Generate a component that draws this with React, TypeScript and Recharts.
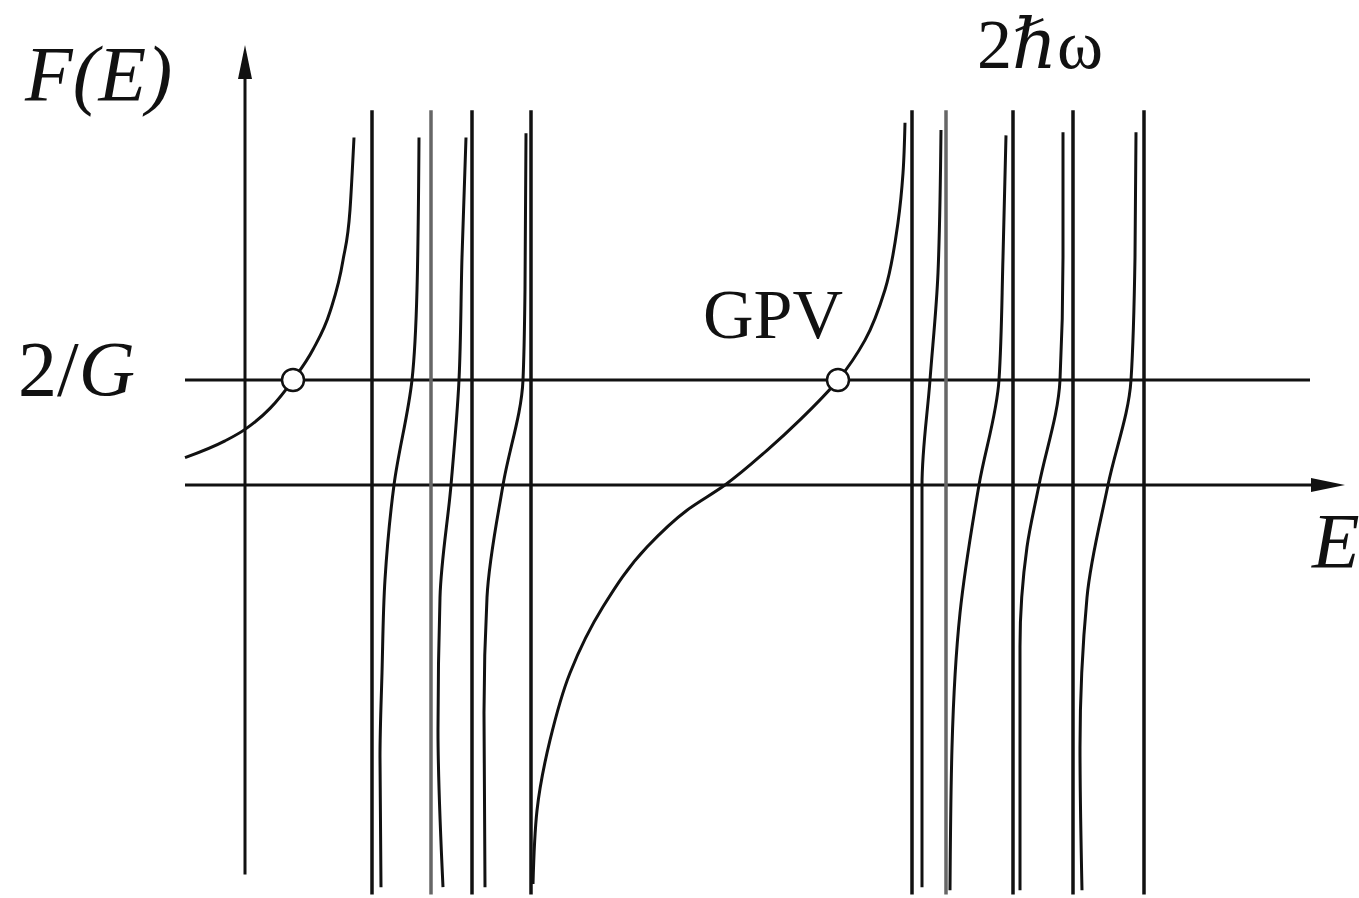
import { LineChart, Line, XAxis, YAxis, ReferenceLine, ReferenceDot } from "recharts";

type Pt = { e: number; f: number };

// Poles of F(E): single-particle levels
const poles = [1.27, 1.86, 2.27, 2.86, 6.67, 7.01, 7.68, 8.28, 8.99];
const grayPoles = [1.86, 7.01];
const poleTop = 3.57;
const poleBottom = -3.9;

// 2/G level and the two solutions marked on it
const coupling = 1;
const roots = [0.48, 5.93];

// branches of F(E) between consecutive poles
const branch0: Pt[] = [
  { e: -0.6, f: 0.26 },
  { e: -0.2, f: 0.42 },
  { e: 0.0, f: 0.53 },
  { e: 0.25, f: 0.73 },
  { e: 0.48, f: 1.0 },
  { e: 0.68, f: 1.29 },
  { e: 0.85, f: 1.65 },
  { e: 0.98, f: 2.14 },
  { e: 1.05, f: 2.62 },
  { e: 1.09, f: 3.31 },
];
const branch1: Pt[] = [
  { e: 1.36, f: -3.83 },
  { e: 1.35, f: -2.59 },
  { e: 1.37, f: -1.79 },
  { e: 1.4, f: -0.9 },
  { e: 1.49, f: 0 },
  { e: 1.67, f: 1.0 },
  { e: 1.72, f: 1.86 },
  { e: 1.74, f: 3.31 },
];
const branch2: Pt[] = [
  { e: 1.98, f: -3.83 },
  { e: 1.93, f: -2.33 },
  { e: 1.95, f: -1.07 },
  { e: 2.06, f: 0 },
  { e: 2.14, f: 1.0 },
  { e: 2.17, f: 2.17 },
  { e: 2.21, f: 3.31 },
];
const branch3: Pt[] = [
  { e: 2.4, f: -3.83 },
  { e: 2.39, f: -2.17 },
  { e: 2.42, f: -1.07 },
  { e: 2.58, f: 0 },
  { e: 2.78, f: 1.0 },
  { e: 2.8, f: 1.86 },
  { e: 2.81, f: 3.35 },
];
const branch4: Pt[] = [
  { e: 2.88, f: -3.8 },
  { e: 2.92, f: -3.1 },
  { e: 3.05, f: -2.43 },
  { e: 3.25, f: -1.79 },
  { e: 3.58, f: -1.16 },
  { e: 4.02, f: -0.59 },
  { e: 4.42, f: -0.24 },
  { e: 4.8, f: 0 },
  { e: 5.22, f: 0.33 },
  { e: 5.55, f: 0.62 },
  { e: 5.93, f: 1.0 },
  { e: 6.2, f: 1.38 },
  { e: 6.4, f: 1.86 },
  { e: 6.53, f: 2.5 },
  { e: 6.58, f: 2.97 },
  { e: 6.6, f: 3.45 },
];
const branch5: Pt[] = [
  { e: 6.77, f: -3.83 },
  { e: 6.77, f: -2.05 },
  { e: 6.77, f: 0 },
  { e: 6.85, f: 1.0 },
  { e: 6.93, f: 2.02 },
  { e: 6.96, f: 3.38 },
];
const branch6: Pt[] = [
  { e: 7.05, f: -3.86 },
  { e: 7.07, f: -2.5 },
  { e: 7.15, f: -1.22 },
  { e: 7.34, f: 0 },
  { e: 7.54, f: 1.0 },
  { e: 7.58, f: 2.17 },
  { e: 7.61, f: 3.33 },
];
const branch7: Pt[] = [
  { e: 7.75, f: -3.86 },
  { e: 7.75, f: -1.54 },
  { e: 7.82, f: -0.59 },
  { e: 7.94, f: 0 },
  { e: 8.15, f: 1.0 },
  { e: 8.18, f: 2.17 },
  { e: 8.18, f: 3.36 },
];
const branch8: Pt[] = [
  { e: 8.37, f: -3.86 },
  { e: 8.35, f: -2.5 },
  { e: 8.42, f: -1.07 },
  { e: 8.63, f: 0 },
  { e: 8.86, f: 1.0 },
  { e: 8.9, f: 2.17 },
  { e: 8.91, f: 3.36 },
];
// the left branch is interpolated along E, the rest along F
const flatBranches = [branch0];
const steepBranches = [branch1, branch2, branch3, branch4, branch5, branch6, branch7, branch8];

const serif = '"Liberation Serif", "Times New Roman", "DejaVu Serif", serif';
const ink = "#111";

// line with a filled arrowhead at (x2, y2)
const arrowLine = (props: any) => {
  const { x1, y1, x2, y2 } = props;
  const dx = x2 - x1;
  const dy = y2 - y1;
  const len = Math.hypot(dx, dy) || 1;
  const ux = dx / len;
  const uy = dy / len;
  const head = 34;
  const half = 7;
  const bx = x2 - ux * head;
  const by = y2 - uy * head;
  const pts = `${x2},${y2} ${bx - uy * half},${by + ux * half} ${bx + uy * half},${by - ux * half}`;
  return (
    <g>
      <line x1={x1} y1={y1} x2={bx + ux * 4} y2={by + uy * 4} stroke={ink} strokeWidth={3} />
      <polygon points={pts} fill={ink} />
    </g>
  );
};

export default function App() {
  return (
    <div style={{ position: "absolute", left: 0, top: 0, background: "#fff" }}>
      <LineChart width={1359} height={898} margin={{ top: 0, right: 0, bottom: 0, left: 0 }}>
        <XAxis type="number" dataKey="e" domain={[-2.45, 11.14]} allowDataOverflow hide />
        <YAxis type="number" dataKey="f" domain={[-3.933, 4.619]} allowDataOverflow hide />

        {/* axes */}
        <ReferenceLine
          segment={[{ x: 0, y: -3.71 }, { x: 0, y: 4.19 }]}
          ifOverflow="visible"
          shape={arrowLine}
        />
        <ReferenceLine
          segment={[{ x: -0.6, y: 0 }, { x: 11.0, y: 0 }]}
          ifOverflow="visible"
          shape={arrowLine}
        />
        <ReferenceLine
          segment={[{ x: -0.6, y: coupling }, { x: 10.65, y: coupling }]}
          ifOverflow="visible"
          stroke={ink}
          strokeWidth={3}
        />

        {poles.map((p) => (
          <ReferenceLine
            key={p}
            segment={[{ x: p, y: poleBottom }, { x: p, y: poleTop }]}
            ifOverflow="visible"
            stroke={grayPoles.includes(p) ? "#666" : ink}
            strokeWidth={3.5}
          />
        ))}

        {flatBranches.map((b, i) => (
          <Line
            key={`w${i}`}
            data={b}
            dataKey="f"
            type="monotoneX"
            stroke={ink}
            strokeWidth={3}
            dot={false}
            activeDot={false}
            isAnimationActive={false}
          />
        ))}
        {steepBranches.map((b, i) => (
          <Line
            key={`n${i}`}
            data={b}
            dataKey="f"
            type="monotoneY"
            stroke={ink}
            strokeWidth={3}
            dot={false}
            activeDot={false}
            isAnimationActive={false}
          />
        ))}

        {roots.map((r) => (
          <ReferenceDot
            key={r}
            x={r}
            y={coupling}
            r={11}
            fill="#fff"
            stroke={ink}
            strokeWidth={2.5}
            ifOverflow="visible"
          />
        ))}

        <text x={25} y={100} fontFamily={serif} fontStyle="italic" fontSize={78} fill={ink}>
          F(E)
        </text>
        <text x={18} y={395} fontFamily={serif} fontSize={78} fill={ink}>
          2/<tspan fontStyle="italic">G</tspan>
        </text>
        <text x={1312} y={567} fontFamily={serif} fontStyle="italic" fontSize={78} fill={ink}>
          E
        </text>
        <text x={703} y={338} fontFamily={serif} fontSize={70} fill={ink}>
          GPV
        </text>
        <text x={977} y={68} fontFamily={serif} fontSize={70} fill={ink}>
          2<tspan fontStyle="italic">ℏ</tspan>ω
        </text>
      </LineChart>
    </div>
  );
}
